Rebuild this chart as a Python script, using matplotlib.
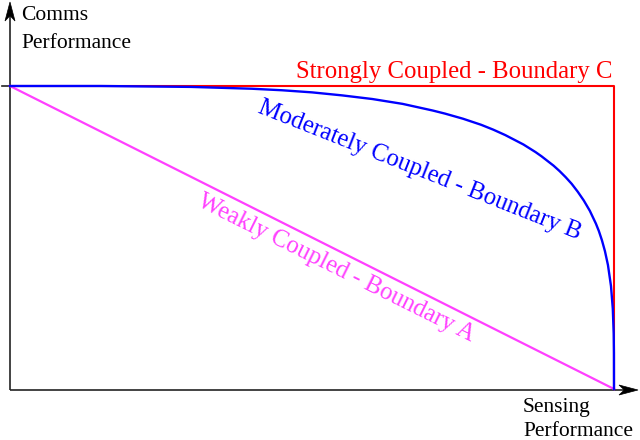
import numpy as np
import matplotlib.pyplot as plt
from matplotlib.patches import Polygon

# ------------------------------------------------------------------
# DATA (normalised: sensing 0..1 along x, comms 0..1 along y)
# ------------------------------------------------------------------
sensing_a = [0.0, 1.0]
comms_a = [1.0, 0.0]

sensing_b = [0.0, 0.1, 0.15, 0.2, 0.25, 0.3, 0.35, 0.4, 0.45, 0.5, 0.55,
             0.6, 0.65, 0.7, 0.72, 0.75, 0.78, 0.8, 0.82, 0.85, 0.87,
             0.88, 0.9, 0.91, 0.92, 0.93, 0.94, 0.95, 0.96, 0.97, 0.975,
             0.98, 0.985, 0.99, 0.995, 0.998, 0.9995, 0.9999, 1.0]
comms_b = [1.0, 1.0, 1.0, 0.999, 0.998, 0.997, 0.994, 0.991, 0.986, 0.979, 0.969,
           0.957, 0.941, 0.919, 0.909, 0.892, 0.872, 0.856, 0.838, 0.807, 0.782,
           0.768, 0.737, 0.719, 0.699, 0.677, 0.651, 0.622, 0.588, 0.546, 0.521,
           0.491, 0.455, 0.409, 0.340, 0.265, 0.183, 0.118, 0.0]

sensing_c = [0.0, 1.0, 1.0]
comms_c = [1.0, 1.0, 0.0]

label_a = 'Weakly Coupled - Boundary A'
label_b = 'Moderately Coupled - Boundary B'
label_c = 'Strongly Coupled - Boundary C'

col_a = '#FF40FF'
col_b = '#0000FF'
col_c = '#FF0000'
col_axis = '#222222'

# ------------------------------------------------------------------
# LAYOUT (pixel frame of the picture)
# ------------------------------------------------------------------
W, H = 640, 440
px0, px1 = 10, 614     # x pixel of sensing 0 and 1
py0, py1 = 389, 86     # y pixel of comms 0 and 1

plt.rcParams['font.family'] = ['Liberation Serif', 'DejaVu Serif']

fig = plt.figure(figsize=(W/100, H/100), dpi=100)
ax = fig.add_axes([0, 0, 1, 1])
ax.axis('off')
sx = px1 - px0
sy = py0 - py1
ax.set_xlim(-px0/sx, (W - px0)/sx)
ax.set_ylim(-(H - py0)/sy, py0/sy)

def fx(px):
    return px / W

def fy(py):
    return 1 - py / H

def arrowhead(tipx, tipy, dx, dy, length=19, width=10):
    # stealth-like head, pixel coords
    nx, ny = -dy, dx
    pts = [(tipx, tipy),
           (tipx - length*dx + width/2*nx, tipy - length*dy + width/2*ny),
           (tipx - 0.72*length*dx, tipy - 0.72*length*dy),
           (tipx - length*dx - width/2*nx, tipy - length*dy - width/2*ny)]
    pts = [(fx(a), fy(b)) for a, b in pts]
    fig.patches.append(Polygon(pts, closed=True, transform=fig.transFigure,
                               facecolor='black', edgecolor='black', lw=0.5))

# axes with arrows
ax.plot([fx(px0), fx(px0)], [fy(390), fy(12)], color=col_axis, lw=1.2,
        transform=fig.transFigure, solid_capstyle='butt')
ax.plot([fx(px0), fx(628)], [fy(390), fy(390)], color=col_axis, lw=1.2,
        transform=fig.transFigure, solid_capstyle='butt')
arrowhead(10, 2, 0, -1)
arrowhead(638, 390, 1, 0)
# tick at comms = 1
ax.plot([fx(2), fx(18)], [fy(86), fy(86)], color=col_axis, lw=1.2,
        transform=fig.transFigure)

# boundaries
ax.plot(sensing_a, comms_a, color=col_a, lw=1.6)
ax.plot(sensing_c, comms_c, color=col_c, lw=1.5)
ax.plot(sensing_b, comms_b, color=col_b, lw=1.7)

# axis labels
fs_ax = 15.5
fig.text(fx(21), fy(20), 'Comms', fontsize=fs_ax, va='baseline', ha='left')
fig.text(fx(21), fy(48), 'Performance', fontsize=fs_ax, va='baseline', ha='left')
fig.text(fx(523), fy(412), 'Sensing', fontsize=fs_ax, va='baseline', ha='left')
fig.text(fx(523), fy(436), 'Performance', fontsize=fs_ax, va='baseline', ha='left')

# boundary labels
fs_lb = 17.8
fig.text(fx(612), fy(78), label_c, fontsize=fs_lb, color=col_c,
         va='baseline', ha='right')
fig.text(fx(257), fy(112), label_b, fontsize=fs_lb, color=col_b,
         va='baseline', ha='left', rotation=-21.6, rotation_mode='anchor')
fig.text(fx(196), fy(206), label_a, fontsize=fs_lb, color=col_a,
         va='baseline', ha='left', rotation=-26.4, rotation_mode='anchor')

fig.savefig('out.png', dpi=100)
